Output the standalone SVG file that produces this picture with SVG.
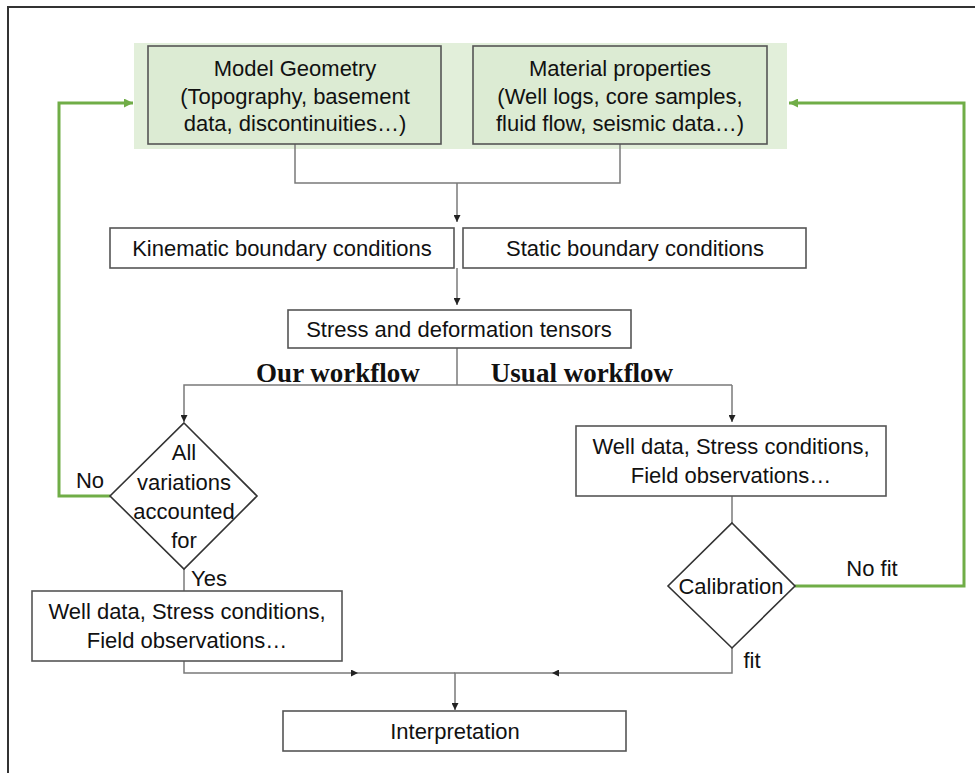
<svg xmlns="http://www.w3.org/2000/svg" width="975" height="773" viewBox="0 0 975 773">
<style>
.t{font-family:"Liberation Sans",Arial,sans-serif;font-size:22px;fill:#111;text-anchor:middle}
.h{font-family:"Liberation Serif","Times New Roman",serif;font-size:27px;font-weight:bold;fill:#111;text-anchor:middle}
.box{fill:#fff;stroke:#555;stroke-width:1.6}
.gbox{fill:#dcebd3;stroke:#555;stroke-width:1.6}
.dia{fill:#fff;stroke:#333;stroke-width:1.6}
.c{fill:none;stroke:#7a7a7a;stroke-width:1.5}
.g{fill:none;stroke:#70ad47;stroke-width:3}
</style>
<defs>
<marker id="a" viewBox="0 0 10 10" refX="10" refY="5" markerWidth="7" markerHeight="7" markerUnits="userSpaceOnUse" orient="auto"><path d="M0,0 L10,5 L0,10 z" fill="#222"/></marker>
<marker id="ag" viewBox="0 0 10 10" refX="10" refY="5" markerWidth="9" markerHeight="9" markerUnits="userSpaceOnUse" orient="auto"><path d="M0,0 L10,5 L0,10 z" fill="#70ad47"/></marker>
</defs>
<rect width="975" height="773" fill="#fff"/>
<path d="M8,773 V7 H975" fill="none" stroke="#333" stroke-width="2"/>
<rect x="134" y="43" width="653" height="106" fill="#e2efda"/>

<g id="connectors">
<path class="c" d="M295,144 V183 H620 V144"/>
<path class="c" d="M457,183 V222" marker-end="url(#a)"/>
<path class="c" d="M457,268 V305" marker-end="url(#a)"/>
<path class="c" d="M457,348 V385"/>
<path class="c" d="M732,385 H184 V422" marker-end="url(#a)"/>
<path class="c" d="M732,385 V422" marker-end="url(#a)"/>
<path class="c" d="M732,496 V523"/>
<path class="c" d="M184,569 V591"/>
<path class="c" d="M184,661 V673 H358" marker-end="url(#a)"/>
<path class="c" d="M358,673 H455"/>
<path class="c" d="M732,648 V673 H552" marker-end="url(#a)"/>
<path class="c" d="M552,673 H455 V710" marker-end="url(#a)"/>
<path class="g" d="M110,496 H59 V103 H133" marker-end="url(#ag)"/>
<path class="g" d="M795,586 H964 V103 H789" marker-end="url(#ag)"/>
</g>

<g id="model-geometry">
<rect class="gbox" x="148" y="46" width="293" height="98"/>
<text class="t" x="295" y="76">Model Geometry</text>
<text class="t" x="295" y="104">(Topography, basement</text>
<text class="t" x="295" y="131">data, discontinuities…)</text>
</g>
<g id="material-properties">
<rect class="gbox" x="473" y="46" width="294" height="98"/>
<text class="t" x="620" y="76">Material properties</text>
<text class="t" x="620" y="104">(Well logs, core samples,</text>
<text class="t" x="620" y="131">fluid flow, seismic data…)</text>
</g>
<g id="kinematic">
<rect class="box" x="110" y="228" width="344" height="40"/>
<text class="t" x="282" y="256">Kinematic boundary conditions</text>
</g>
<g id="static">
<rect class="box" x="463" y="228" width="343" height="40"/>
<text class="t" x="635" y="256">Static boundary conditions</text>
</g>
<g id="stress">
<rect class="box" x="288" y="310" width="343" height="38"/>
<text class="t" x="459" y="337">Stress and deformation tensors</text>
</g>
<g id="labels">
<text class="h" x="338" y="382">Our workflow</text>
<text class="h" x="582" y="382">Usual workflow</text>
</g>
<g id="all-variations">
<polygon class="dia" points="184,423 257,496 184,569 110,496"/>
<text class="t" x="184" y="460">All</text>
<text class="t" x="184" y="490">variations</text>
<text class="t" x="184" y="519">accounted</text>
<text class="t" x="184" y="548">for</text>
<text class="t" x="90" y="488">No</text>
<text class="t" x="209" y="586">Yes</text>
</g>
<g id="well-data-left">
<rect class="box" x="32" y="591" width="310" height="70"/>
<text class="t" x="187" y="619">Well data, Stress conditions,</text>
<text class="t" x="187" y="648">Field observations…</text>
</g>
<g id="well-data-right">
<rect class="box" x="576" y="426" width="310" height="70"/>
<text class="t" x="731" y="454">Well data, Stress conditions,</text>
<text class="t" x="731" y="483">Field observations…</text>
</g>
<g id="calibration">
<polygon class="dia" points="732,523 795,586 732,648 668,586"/>
<text class="t" x="731" y="594">Calibration</text>
<text class="t" x="872" y="576">No fit</text>
<text class="t" x="752" y="668">fit</text>
</g>
<g id="interpretation">
<rect class="box" x="283" y="711" width="343" height="40"/>
<text class="t" x="455" y="739">Interpretation</text>
</g>
</svg>
